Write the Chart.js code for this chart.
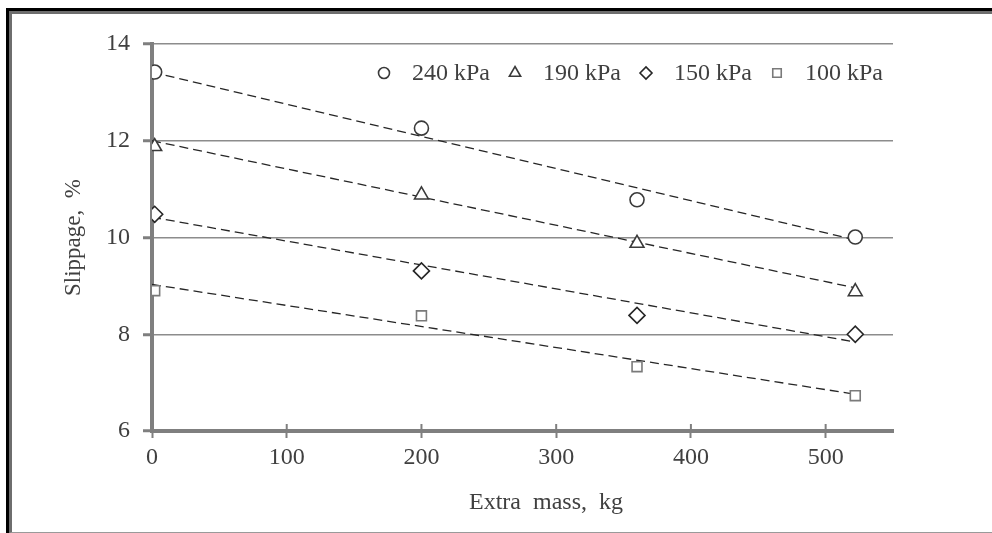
<!DOCTYPE html>
<html lang="en">
<head>
    <meta charset="UTF-8">
    <title>slippage</title>
    <script src="https://cdn.jsdelivr.net/npm/chart.js@4.4.1/dist/chart.umd.min.js"></script>
    <style>
        *{margin:0; padding:0;}
        body{background:#fff;}
        #wrap{position:relative; width:992px; height:533px; overflow:hidden;}
        .frame_out{position:absolute; left:6px; top:8px; right:-20px; bottom:-20px; border-left:3px solid #000; border-top:3px solid #000;}
        .frame_in{position:absolute; left:9px; top:11px; right:-20px; bottom:0; border-left:3px solid #6e6e6e; border-top:3px solid #6e6e6e; border-bottom:1px solid #9a9a9a;}
        #chart{position:absolute; left:0; top:0;}
    </style>
</head>
<body>
    <div id="wrap">
        <div class="frame_out"></div>
        <div class="frame_in"></div>
        <canvas id="chart" width="992" height="533"></canvas>
    </div>

    <script>
        // data
        const pressures = ['240 kPa', '190 kPa', '150 kPa', '100 kPa']
        const mass = [2, 200, 360, 522]
        const slip240 = [13.42, 12.26, 10.78, 10.01]
        const slip190 = [11.88, 10.88, 9.88, 8.88]
        const slip150 = [10.48, 9.31, 8.39, 8.0]
        const slip100 = [8.9, 8.38, 7.33, 6.73]

        // dashed trend lines (end points)
        const trendMass = [0, 522]
        const trend240 = [13.42, 9.95]
        const trend190 = [12.0, 8.96]
        const trend150 = [10.42, 7.84]
        const trend100 = [9.03, 6.76]

        const xTicks = [0, 100, 200, 300, 400, 500]
        const yTicks = [6, 8, 10, 12, 14]

        const FONT = '"Liberation Serif", "Times New Roman", serif'
        const TEXT = '#404040'

        function pts(xs, ys){
            return xs.map(function(x, i){ return {x:x, y:ys[i]} })
        }

        const markers = [
            {style:'circle', radius:7, color:'#3a3a3a', lg:5.5},
            {style:'triangle', radius:8, color:'#3a3a3a', lg:6.5},
            {style:'rectRot', radius:8, color:'#262626', lg:6},
            {style:'rect', radius:7, color:'#7a7a7a', lg:6}
        ]
        const series = [slip240, slip190, slip150, slip100]
        const trends = [trend240, trend190, trend150, trend100]

        const datasets = []
        series.forEach(function(s, i){
            datasets.push({
                label: pressures[i],
                legend: true,
                data: pts(mass, s),
                showLine: false,
                pointStyle: markers[i].style,
                pointRadius: markers[i].radius,
                pointBorderWidth: 1.6,
                pointBorderColor: markers[i].color,
                pointBackgroundColor: '#fff',
                lgRadius: markers[i].lg,
                order: 0
            })
        })
        trends.forEach(function(t){
            datasets.push({
                type: 'line',
                data: pts(trendMass, t),
                borderColor: '#262626',
                borderWidth: 1.3,
                borderDash: [9, 5],
                pointRadius: 0,
                fill: false,
                order: 1
            })
        })

        // legend inside plot, right aligned
        const pressureLegend = {
            id: 'pressureLegend',
            afterDraw: function(chart){
                const ctx = chart.ctx
                const items = chart.data.datasets.filter(function(d){ return d.legend })
                let x = 883
                const y = 73
                ctx.save()
                ctx.font = '24px ' + FONT
                ctx.textBaseline = 'middle'
                for(let i = items.length - 1; i >= 0; i--){
                    const d = items[i]
                    const w = ctx.measureText(d.label).width
                    x -= w
                    ctx.fillStyle = TEXT
                    ctx.fillText(d.label, x, y + 1)
                    ctx.fillStyle = '#fff'
                    ctx.strokeStyle = d.pointBorderColor
                    ctx.lineWidth = 1.6
                    Chart.helpers.drawPoint(ctx, {pointStyle:d.pointStyle, radius:d.lgRadius, borderWidth:1.6, rotation:0}, x - 28, y)
                    x -= 28 + 25
                }
                ctx.restore()
            }
        }

        // x ticks cross the axis line, x title
        const axisExtras = {
            id: 'axisExtras',
            afterDraw: function(chart){
                const ctx = chart.ctx
                const xs = chart.scales.x
                const bottom = chart.chartArea.bottom
                ctx.save()
                ctx.strokeStyle = '#7f7f7f'
                ctx.lineWidth = 2
                xTicks.forEach(function(v){
                    const px = xs.getPixelForValue(v)
                    ctx.beginPath()
                    ctx.moveTo(px, bottom - 7)
                    ctx.lineTo(px, bottom)
                    ctx.stroke()
                })
                ctx.fillStyle = TEXT
                ctx.font = '24px ' + FONT
                ctx.textAlign = 'center'
                ctx.textBaseline = 'middle'
                ctx.fillText('Extra  mass,  kg', 546, 503)
                ctx.restore()
            }
        }

        const config = {
            type: 'scatter',
            data: {datasets: datasets},
            options: {
                responsive: false,
                animation: false,
                layout: {padding: {top: 44, right: 99, left: 0, bottom: 0}},
                plugins: {
                    legend: {display: false},
                    tooltip: {enabled: false}
                },
                scales: {
                    x: {
                        type: 'linear',
                        min: 0,
                        max: 550,
                        afterBuildTicks: function(scale){
                            scale.ticks = xTicks.map(function(v){ return {value:v} })
                        },
                        afterFit: function(scale){ scale.height = 102 },
                        border: {display: true, color: '#7f7f7f', width: 4},
                        grid: {drawOnChartArea: false, color: '#7f7f7f', tickLength: 7, tickWidth: 2, tickColor: '#7f7f7f'},
                        ticks: {padding: 5, color: TEXT, font: {family: FONT, size: 24}, maxRotation: 0}
                    },
                    y: {
                        min: 6,
                        max: 14,
                        afterBuildTicks: function(scale){
                            scale.ticks = yTicks.map(function(v){ return {value:v} })
                        },
                        afterFit: function(scale){ scale.width = 152 },
                        border: {display: true, color: '#7f7f7f', width: 4},
                        grid: {color: '#8c8c8c', lineWidth: 1.5, tickLength: 9, tickWidth: 3, tickColor: '#7f7f7f'},
                        ticks: {padding: 13, color: TEXT, font: {family: FONT, size: 24}},
                        title: {
                            display: true,
                            text: 'Slippage,  %',
                            color: TEXT,
                            font: {family: FONT, size: 23},
                            padding: {top: 60, bottom: 0}
                        }
                    }
                }
            },
            plugins: [pressureLegend, axisExtras]
        }

        new Chart(document.querySelector('#chart').getContext('2d'), config)
    </script>
</body>
</html>
